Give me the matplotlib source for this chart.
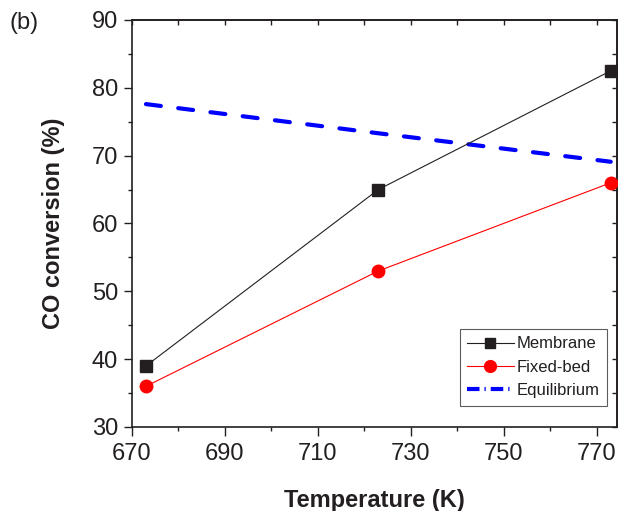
import matplotlib
matplotlib.use("Agg")
import matplotlib.pyplot as plt
from matplotlib.ticker import MultipleLocator
from matplotlib.lines import Line2D

plt.rcParams['font.family'] = ['Liberation Sans', 'DejaVu Sans']

temperature = [673, 723, 773]
membrane = [39.0, 65.0, 82.5]
fixed_bed = [36.0, 53.0, 66.0]
equilibrium = [77.6, 73.3, 69.1]
series_labels = ['Membrane', 'Fixed-bed', 'Equilibrium']

INK = '#231f20'

fig = plt.figure(figsize=(6.18, 5.11), dpi=100)
ax = fig.add_axes([0.2136, 0.1644, 0.7844, 0.7965])

ax.plot(temperature, membrane, color=INK, lw=0.8, marker='s', ms=8,
        mfc=INK, mec=INK, zorder=3)
ax.plot(temperature, fixed_bed, color='red', lw=0.8, marker='o', ms=9,
        mfc='red', mec='red', zorder=3)
ax.plot(temperature, equilibrium, color='blue', lw=3, dashes=(3.6, 4.2),
        dash_capstyle='round', zorder=2)

ax.set_xlim(670, 774.3)
ax.set_ylim(30, 90)
ax.xaxis.set_major_locator(MultipleLocator(20, offset=10))
ax.xaxis.set_minor_locator(MultipleLocator(10))
ax.yaxis.set_major_locator(MultipleLocator(10))
ax.yaxis.set_minor_locator(MultipleLocator(5))

ax.tick_params(which='both', direction='out', top=False, right=False,
               labelsize=17, colors=INK, width=1)
ax.tick_params(axis='x', which='major', length=6.5, pad=5)
ax.tick_params(axis='y', which='major', length=6, pad=4)
ax.tick_params(which='minor', length=3)
for s in ax.spines.values():
    s.set_linewidth(1.2)
    s.set_color(INK)

sec_x = ax.secondary_xaxis('top')
sec_x.xaxis.set_major_locator(MultipleLocator(10))
sec_x.tick_params(which='both', direction='in', labeltop=False, width=1,
                  length=3.5, colors=INK)
sec_x.spines['top'].set_linewidth(1.2)
sec_x.spines['top'].set_color(INK)
sec_y = ax.secondary_yaxis('right')
sec_y.yaxis.set_major_locator(MultipleLocator(5))
sec_y.tick_params(which='both', direction='in', labelright=False, width=1,
                  length=3.5, colors=INK)
sec_y.spines['right'].set_linewidth(1.2)
sec_y.spines['right'].set_color(INK)

ax.set_xlabel('Temperature (K)', fontsize=17, fontweight='bold', labelpad=17, color=INK)
ax.set_ylabel('CO conversion (%)', fontsize=17, fontweight='bold', labelpad=19, color=INK)

fig.text(0.016, 0.955, '(b)', fontsize=17, ha='left', va='center', color=INK)

handles = [
    Line2D([], [], color=INK, lw=0.8, marker='s', ms=7.5, mfc=INK, mec=INK),
    Line2D([], [], color='red', lw=0.8, marker='o', ms=8.5, mfc='red', mec='red'),
    Line2D([], [], color='blue', lw=3, dashes=(3.0, 1.2, 0.3, 1.2)),
]
leg = ax.legend(handles, series_labels,
                loc='lower right', bbox_to_anchor=(0.9795, 0.0525), fontsize=12,
                frameon=True, fancybox=False, edgecolor='#333333',
                handlelength=2.8, handletextpad=0.15, borderpad=0.45,
                labelspacing=0.5, borderaxespad=0)
leg.get_frame().set_linewidth(0.8)
for t in leg.get_texts():
    t.set_color(INK)

fig.savefig('out.png', dpi=100)
